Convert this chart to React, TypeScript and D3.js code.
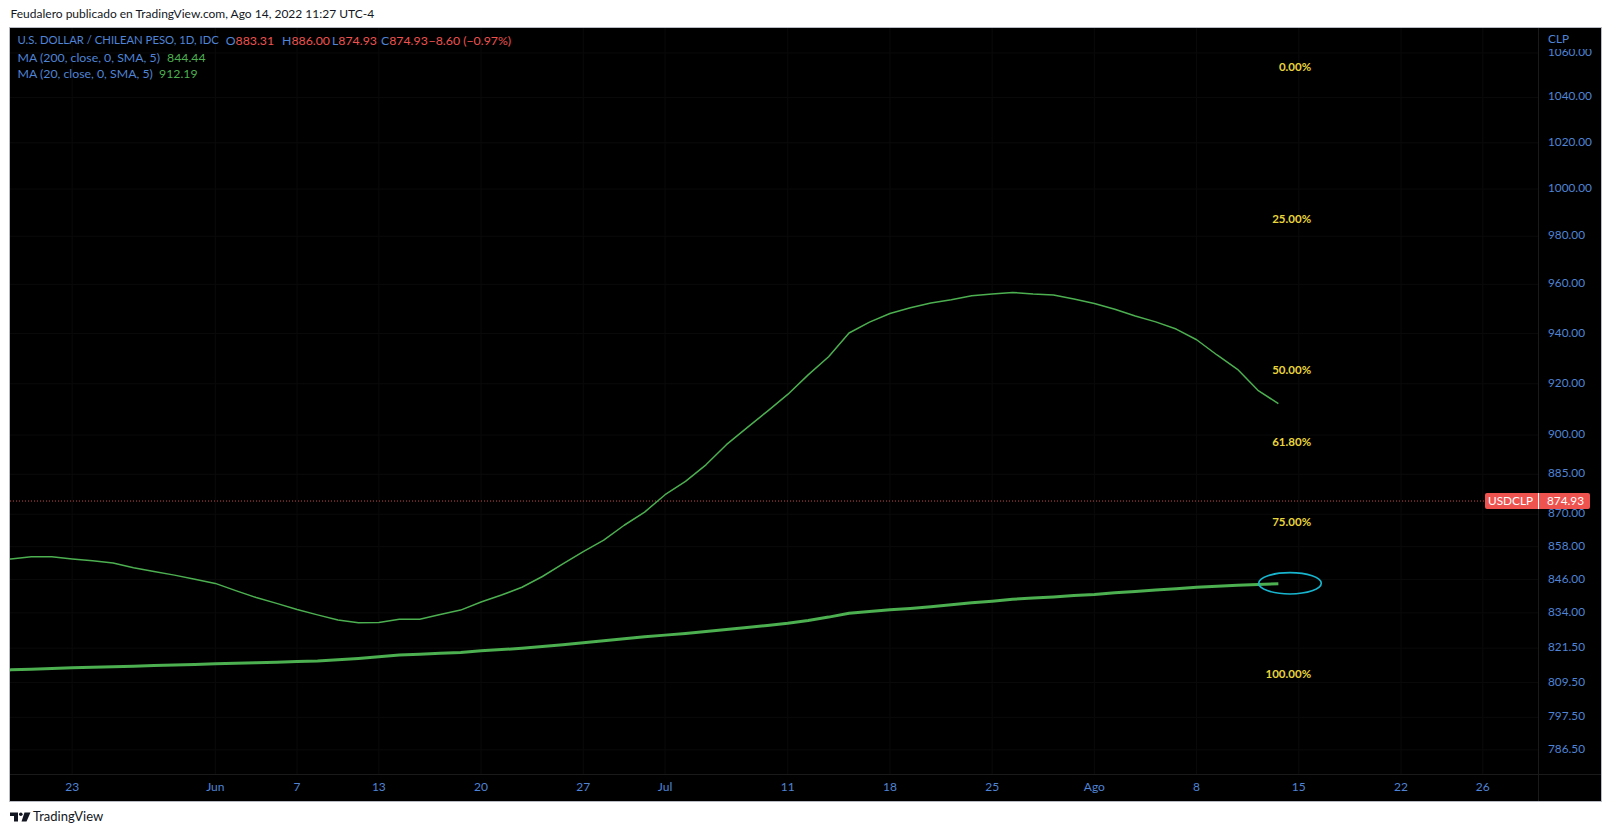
import * as d3 from 'd3';

// trading days shown on the time axis (weekdays only, like the FX feed)
const firstDay = new Date(2022, 4, 16);
const lastDay = new Date(2022, 8, 3);

// MA values start on this bar, one value per weekday
const maStart = '2022-05-17';

const ma20 = [
  852.6, 853.5, 854.3, 854.3, 853.5, 852.8, 852.0, 850.3, 848.9, 847.6, 846.1,
  844.6, 842.0, 839.5, 837.4, 835.2, 833.3, 831.5, 830.5, 830.6, 831.7, 831.7,
  833.4, 835.0, 837.9, 840.4, 843.2, 847.1, 851.7, 856.2, 860.4, 865.9, 870.8,
  877.3, 882.3, 888.6, 896.3, 902.8, 909.2, 915.8, 923.5, 930.7, 940.2, 944.6,
  948.1, 950.4, 952.4, 953.7, 955.3, 956.0, 956.7, 956.0, 955.6, 954.0,
  952.2, 949.8, 947.1, 944.7, 941.8, 937.5, 931.4, 925.7, 917.4, 912.19,
];

const ma200 = [
  813.6, 813.9, 814.1, 814.4, 814.6, 814.8, 815.0, 815.2, 815.4, 815.6, 815.8,
  816.0, 816.2, 816.4, 816.6, 816.8, 817.0, 817.4, 817.9, 818.5, 819.1, 819.4,
  819.7, 820.0, 820.6, 821.0, 821.5, 822.1, 822.7, 823.4, 824.1, 824.8, 825.5,
  826.1, 826.7, 827.4, 828.1, 828.8, 829.5, 830.3, 831.3, 832.5, 833.9, 834.5,
  835.1, 835.6, 836.2, 836.9, 837.6, 838.2, 838.9, 839.3, 839.7, 840.2,
  840.6, 841.2, 841.7, 842.2, 842.7, 843.2, 843.6, 843.9, 844.2, 844.44,
];

// last daily bar
const ohlc = { o: 883.31, h: 886.0, l: 874.93, c: 874.93, chg: -8.6, pct: -0.97 };

const timeTicks = [
  { date: '2022-05-23', label: '23' },
  { date: '2022-06-01', label: 'Jun' },
  { date: '2022-06-07', label: '7' },
  { date: '2022-06-13', label: '13' },
  { date: '2022-06-20', label: '20' },
  { date: '2022-06-27', label: '27' },
  { date: '2022-07-01', label: 'Jul' },
  { date: '2022-07-11', label: '11' },
  { date: '2022-07-18', label: '18' },
  { date: '2022-07-25', label: '25' },
  { date: '2022-08-01', label: 'Ago' },
  { date: '2022-08-08', label: '8' },
  { date: '2022-08-15', label: '15' },
  { date: '2022-08-22', label: '22' },
  { date: '2022-08-26', label: '26' },
];

const priceTicks = [
  1060, 1040, 1020, 1000, 980, 960, 940, 920, 900, 885, 870, 858, 846, 834, 821.5, 809.5, 797.5, 786.5,
];

// fib retracement drawn from high to low
const fibHigh = 1053.3;
const fibLow = 812.1;
const fibLevels = [0, 0.25, 0.5, 0.618, 0.75, 1];

// circled spot: bar offsets from last bar and price bounds
const ellipseBars = [-0.96, 2.1];
const ellipsePrices = [848.5, 840.8];

const FONT = 'Lato, "Noto Sans", sans-serif';
const BLUE = '#4f84d6';
const RED = '#ef5350';
const GREEN = '#4caf50';
const YELLOW = '#e9d53c';

const pane = { left: 10, right: 1538, top: 28, bottom: 774 };

const fmt = (v: number) => v.toFixed(2).replace('-', '−');

export default function App() {
  const days = d3
    .timeDay.range(firstDay, lastDay)
    .filter((d) => d.getDay() !== 0 && d.getDay() !== 6);
  const key = d3.timeFormat('%Y-%m-%d');
  const idx = new Map(days.map((d, i) => [key(d), i]));

  const x = d3
    .scaleLinear()
    .domain([idx.get('2022-05-23')!, idx.get('2022-08-26')!])
    .range([72.2, 1482.8]);
  const y = d3.scaleLog().domain([778.4, 1071.4]).range([pane.bottom, pane.top]);

  const s0 = idx.get(maStart)!;
  const last = s0 + ma20.length - 1;
  const line = d3
    .line<number>()
    .x((_, i) => x(s0 + i))
    .y((v) => y(v));

  const lnH = Math.log(fibHigh);
  const lnL = Math.log(fibLow);
  const fibY = (r: number) => y(Math.exp(lnH + r * (lnL - lnH)));

  const ex0 = x(last + ellipseBars[0]);
  const ex1 = x(last + ellipseBars[1]);
  const ey0 = y(ellipsePrices[0]);
  const ey1 = y(ellipsePrices[1]);

  const yClose = y(ohlc.c);

  return (
    <div style={{ position: 'absolute', left: 0, top: 0 }}>
      <svg width={1612} height={837} style={{ display: 'block', background: '#fff' }} fontFamily={FONT}>
        <defs>
          <clipPath id="pane">
            <rect x={pane.left} y={pane.top} width={pane.right - pane.left} height={pane.bottom - pane.top} />
          </clipPath>
        </defs>

        <text x={10.5} y={15} fontSize={12} fill="#131722" dominantBaseline="middle">
          Feudalero publicado en TradingView.com, Ago 14, 2022 11:27 UTC-4
        </text>

        <rect x={9.5} y={27.5} width={1592} height={774} fill="#000" stroke="#b8bbc4" />

        {/* grid */}
        <g stroke="#0a0a0a">
          {timeTicks.map((t) => (
            <line key={t.date} x1={x(idx.get(t.date)!)} x2={x(idx.get(t.date)!)} y1={pane.top} y2={pane.bottom} />
          ))}
          {priceTicks.map((p) => (
            <line key={p} x1={pane.left} x2={pane.right} y1={y(p)} y2={y(p)} />
          ))}
        </g>
        <line x1={pane.right + 0.5} x2={pane.right + 0.5} y1={28} y2={801} stroke="#1a1a1a" />
        <line x1={10} x2={1601} y1={pane.bottom + 0.5} y2={pane.bottom + 0.5} stroke="#1a1a1a" />

        <g clipPath="url(#pane)">
          <line
            x1={pane.left}
            x2={1485}
            y1={yClose}
            y2={yClose}
            stroke={RED}
            strokeOpacity={0.85}
            strokeDasharray="1 2"
          />
          <path d={line(ma200) ?? ''} fill="none" stroke={GREEN} strokeWidth={3} strokeLinejoin="round" />
          <path d={line(ma20) ?? ''} fill="none" stroke={GREEN} strokeWidth={1.5} strokeLinejoin="round" />
          <ellipse
            cx={(ex0 + ex1) / 2}
            cy={(ey0 + ey1) / 2}
            rx={(ex1 - ex0) / 2}
            ry={(ey1 - ey0) / 2}
            fill="none"
            stroke="#18b5cf"
            strokeWidth={1.6}
          />
          {fibLevels.map((r) => (
            <text
              key={r}
              x={x(last + 1.6)}
              y={fibY(r)}
              fill={YELLOW}
              fontSize={11.5}
              fontWeight={700}
              textAnchor="end"
              dominantBaseline="middle"
            >
              {(r * 100).toFixed(2)}%
            </text>
          ))}
        </g>

        {/* legend */}
        <g fontSize={12.3} dominantBaseline="middle">
          <text x={17.5} y={41.5} fill={BLUE} fontSize={11.3}>
            U.S. DOLLAR / CHILEAN PESO, 1D, IDC
          </text>
          <text x={225.7} y={41.5} fill={BLUE}>
            O<tspan fill={RED}>{fmt(ohlc.o)}</tspan>
          </text>
          <text x={282} y={41.5} fill={BLUE}>
            H<tspan fill={RED}>{fmt(ohlc.h)}</tspan>
          </text>
          <text x={332} y={41.5} fill={BLUE}>
            L<tspan fill={RED}>{fmt(ohlc.l)}</tspan>
          </text>
          <text x={381} y={41.5} fill={BLUE}>
            C<tspan fill={RED}>{fmt(ohlc.c)}</tspan>
          </text>
          <text x={428.6} y={41.5} fill={RED}>
            {fmt(ohlc.chg)} ({fmt(ohlc.pct)}%)
          </text>
          <text x={17.5} y={58.5} fill={BLUE}>
            MA (200, close, 0, SMA, 5)
          </text>
          <text x={167} y={58.5} fill={GREEN}>
            {fmt(ma200[ma200.length - 1])}
          </text>
          <text x={17.5} y={75} fill={BLUE}>
            MA (20, close, 0, SMA, 5)
          </text>
          <text x={159} y={75} fill={GREEN}>
            {fmt(ma20[ma20.length - 1])}
          </text>
        </g>

        {/* price axis */}
        <g fontSize={11.8} fill={BLUE} dominantBaseline="middle">
          {priceTicks.map((p) => (
            <text key={p} x={1548} y={y(p)}>
              {p.toFixed(2)}
            </text>
          ))}
        </g>
        <rect x={1539} y={28} width={62} height={21} fill="#000" />
        <text x={1548} y={40} fontSize={11.8} fill={BLUE} dominantBaseline="middle">
          CLP
        </text>

        {/* last price label */}
        <rect x={1485} y={yClose - 8} width={105} height={16} rx={2} fill={RED} />
        <line x1={pane.right + 0.5} x2={pane.right + 0.5} y1={yClose - 8} y2={yClose + 8} stroke="#fff" />
        <text x={1510.5} y={yClose + 0.5} fontSize={11.8} fill="#fff" textAnchor="middle" dominantBaseline="middle">
          USDCLP
        </text>
        <text x={1565.5} y={yClose + 0.5} fontSize={11.8} fill="#fff" textAnchor="middle" dominantBaseline="middle">
          {fmt(ohlc.c)}
        </text>

        {/* time axis */}
        <g fontSize={12} fill={BLUE} textAnchor="middle" dominantBaseline="middle">
          {timeTicks.map((t) => (
            <text key={t.date} x={x(idx.get(t.date)!)} y={788}>
              {t.label}
            </text>
          ))}
        </g>

        {/* footer logo */}
        <g fill="#131722">
          <path d="M10 812.5h8v9h-4v-5.5h-4z" />
          <circle cx={20.8} cy={814.3} r={1.8} />
          <path d="M24.5 812.5h6l-4 9h-5z" />
        </g>
        <text x={33} y={817.5} fontSize={13} fill="#131722" dominantBaseline="middle">
          TradingView
        </text>
      </svg>
    </div>
  );
}
